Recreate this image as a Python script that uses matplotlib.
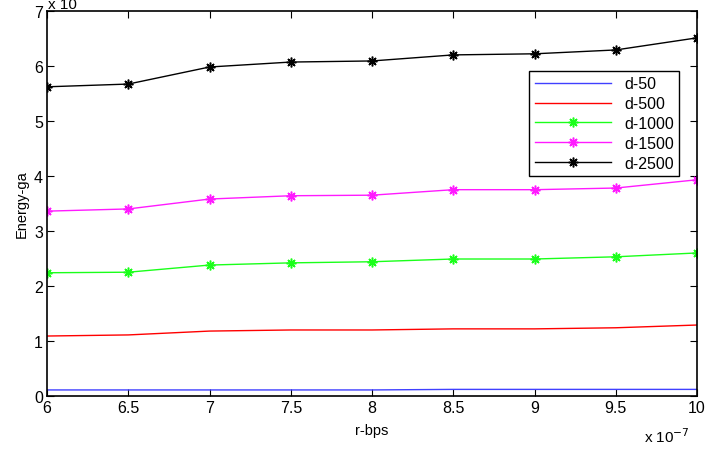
import matplotlib
matplotlib.use("Agg")
import matplotlib.pyplot as plt
import numpy as np

plt.rcParams['font.family'] = ['Liberation Sans', 'DejaVu Sans']

# r-bps, in units of 1e-7
rate = [6, 6.5, 7, 7.5, 8, 8.5, 9, 9.5, 10]

# Energy-ga per distance
d50 = [0.11, 0.11, 0.11, 0.11, 0.11, 0.12, 0.12, 0.12, 0.12]
d500 = [1.09, 1.11, 1.18, 1.20, 1.20, 1.22, 1.22, 1.24, 1.29]
d1000 = [2.24, 2.25, 2.38, 2.42, 2.44, 2.49, 2.49, 2.53, 2.60]
d1500 = [3.36, 3.40, 3.58, 3.64, 3.65, 3.75, 3.75, 3.78, 3.93]
d2500 = [5.62, 5.67, 5.98, 6.07, 6.09, 6.20, 6.22, 6.29, 6.51]

labels = ["d-50", "d-500", "d-1000", "d-1500", "d-2500"]

star = (8, 2, 0)  # matlab style asterisk

fig = plt.figure(figsize=(7.05, 4.52), dpi=100)
ax = fig.add_axes([0.0667, 0.1217, 0.922, 0.852])

ax.plot(rate, d50, color=(0.25, 0.25, 1.0), lw=1, label=labels[0])
ax.plot(rate, d500, color='red', lw=1, label=labels[1])
ax.plot(rate, d1000, color=(0.1, 1.0, 0.1), lw=1, marker=star, ms=7, mew=1.1, label=labels[2])
ax.plot(rate, d1500, color=(1.0, 0.1, 1.0), lw=1, marker=star, ms=7, mew=1.1, label=labels[3])
ax.plot(rate, d2500, color='black', lw=1, marker=star, ms=7, mew=1.1, label=labels[4])

ax.set_xlim(6, 10)
ax.set_ylim(0, 7)
ax.set_xticks(np.arange(6, 10.01, 0.5))
ax.set_xticklabels(["6", "6.5", "7", "7.5", "8", "8.5", "9", "9.5", "10"])
ax.set_yticks(range(8))
ax.tick_params(direction='in', top=True, right=True, labelsize=11.5, length=5, pad=3)
for s in ax.spines.values():
    s.set_linewidth(1.2)

ax.set_xlabel("r-bps", fontsize=10.5, labelpad=6)
ax.set_ylabel("Energy-ga", fontsize=10.5, labelpad=4)

fig.text(0.913, 0.02, r"x 10$^{-7}$", fontsize=11)
fig.text(0.068, 0.98, r"x 10", fontsize=11)

leg = ax.legend(loc='upper right', bbox_to_anchor=(0.985, 0.865), fontsize=11.5,
                fancybox=False, edgecolor='black', framealpha=1,
                handlelength=4.8, labelspacing=0.3, borderpad=0.35)
leg.get_frame().set_linewidth(1)

fig.savefig("out.png", dpi=100)
